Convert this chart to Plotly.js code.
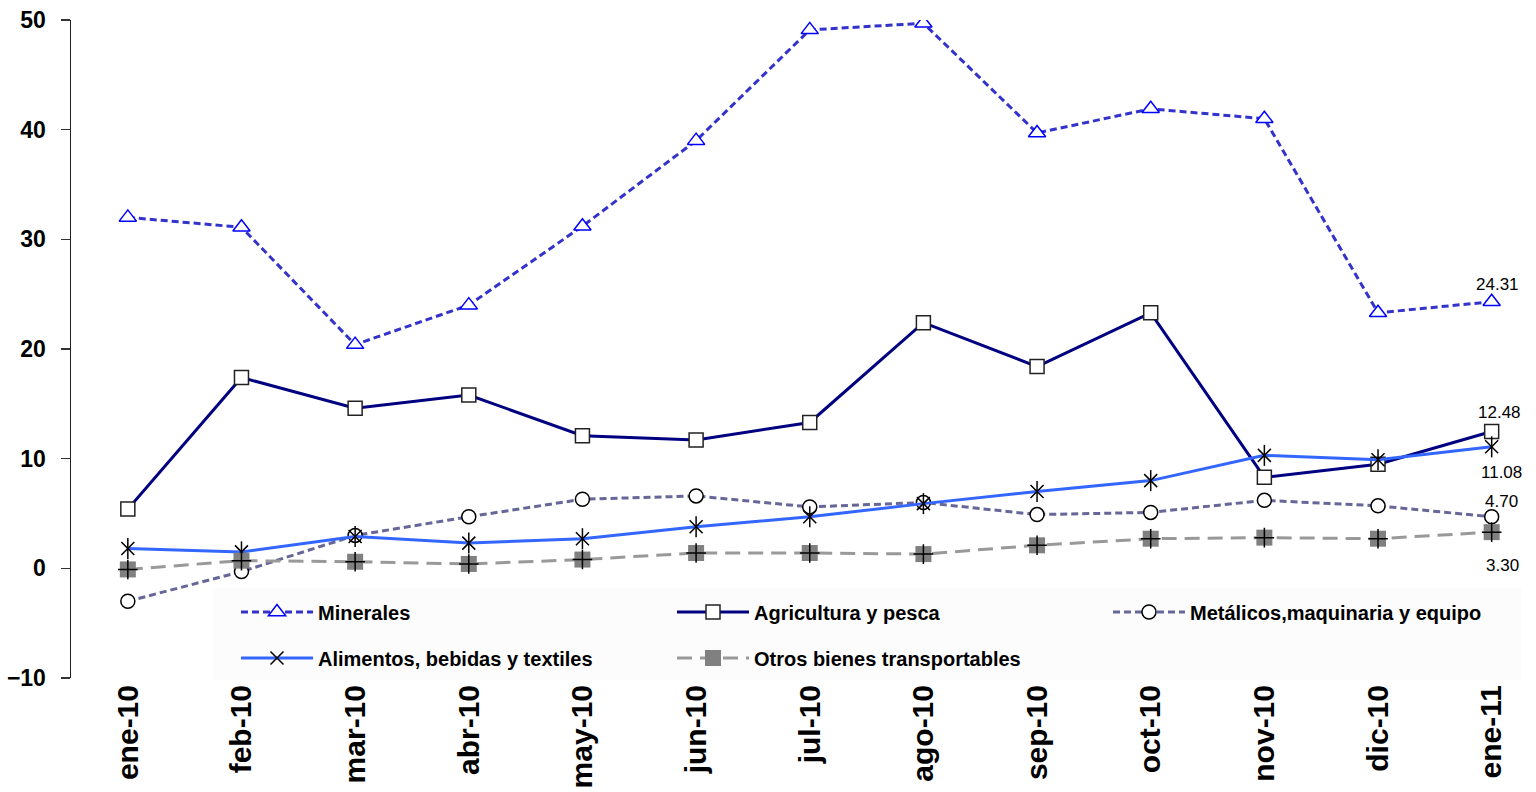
<!DOCTYPE html>
<html>
<head>
<meta charset="utf-8">
<script src="https://cdn.plot.ly/plotly-3.0.1.min.js"></script>
<style>html,body{margin:0;padding:0;background:#fff;}#chart{width:1536px;height:792px;}</style>
</head>
<body>
<div id="chart"></div>
<script>
const months = ['ene-10','feb-10','mar-10','abr-10','may-10','jun-10','jul-10','ago-10','sep-10','oct-10','nov-10','dic-10','ene-11'];
const minerales   = [32.0, 31.1, 20.4, 24.0, 31.2, 39.0, 49.1, 49.7, 39.7, 41.9, 41.0, 23.3, 24.31];
const agricultura = [5.4, 17.4, 14.6, 15.8, 12.1, 11.7, 13.3, 22.4, 18.4, 23.3, 8.3, 9.5, 12.48];
const metalicos   = [-3.0, -0.3, 3.0, 4.7, 6.3, 6.6, 5.6, 6.0, 4.9, 5.1, 6.2, 5.7, 4.70];
const alimentos   = [1.8, 1.5, 2.9, 2.3, 2.7, 3.8, 4.7, 5.9, 7.0, 8.0, 10.3, 9.9, 11.08];
const otros       = [-0.1, 0.7, 0.6, 0.4, 0.8, 1.4, 1.4, 1.3, 2.1, 2.7, 2.8, 2.7, 3.30];
const yTicks = [-10, 0, 10, 20, 30, 40, 50];

const FONT = 'Liberation Sans, Arial, sans-serif';
const xIdx = months.map((m, i) => i);

const traces = [
  { x: xIdx, y: minerales, name: 'Minerales', mode: 'lines+markers', legend: 'legend',
    line: {color: '#3333CC', width: 3, dash: '7px,4px'},
    marker: {symbol: 'triangle-up', size: 15, color: '#FFFFFF', line: {color: '#0000FF', width: 1.5}} },
  { x: xIdx, y: agricultura, name: 'Agricultura y pesca', mode: 'lines+markers', legend: 'legend',
    line: {color: '#000080', width: 3},
    marker: {symbol: 'square', size: 14, color: '#FFFFFF', line: {color: '#222222', width: 1.5}} },
  { x: xIdx, y: metalicos, name: 'Metálicos,maquinaria y equipo', mode: 'lines+markers', legend: 'legend',
    line: {color: '#666699', width: 3, dash: '7px,4px'},
    marker: {symbol: 'circle', size: 14, color: '#FFFFFF', line: {color: '#000000', width: 1.5}} },
  { x: xIdx, y: alimentos, name: 'Alimentos, bebidas y textiles', mode: 'lines+markers', legend: 'legend2',
    line: {color: '#3366FF', width: 3},
    marker: {symbol: 'x-thin-open', size: 13, color: '#000000', line: {color: '#000000', width: 1.5}} },
  { x: xIdx, y: alimentos, name: 'Alimentos vertical', mode: 'markers', showlegend: false, hoverinfo: 'skip',
    marker: {symbol: 'line-ns-open', size: 15, color: '#000000', line: {color: '#000000', width: 1.5}} },
  { x: xIdx, y: otros, name: 'Otros bienes transportables', mode: 'lines+markers', legend: 'legend2',
    line: {color: '#999999', width: 3, dash: '15px,8px'},
    marker: {symbol: 'square', size: 16, color: '#808080', line: {width: 0}} },
  { x: xIdx, y: otros, name: 'Otros cross', mode: 'markers', showlegend: false, hoverinfo: 'skip',
    marker: {symbol: 'cross-thin-open', size: 14, color: '#000000', line: {color: '#000000', width: 1.5}} }
];

const last = months.length - 1;
const labelSpecs = [
  {arr: minerales, dy: 17, dx: 6},
  {arr: agricultura, dy: 19, dx: 8},
  {arr: alimentos, dy: -26, dx: 10},
  {arr: metalicos, dy: 15, dx: 10},
  {arr: otros, dy: -33, dx: 11}
];
const annotations = labelSpecs.map(s => ({
  x: last, y: s.arr[last], xref: 'x', yref: 'y', text: s.arr[last].toFixed(2),
  showarrow: false, xshift: s.dx, yshift: s.dy,
  font: {family: FONT, size: 17, color: '#000000'}
}));

const legendFont = {family: FONT, size: 20, color: '#000000', weight: 'bold'};
const legX = (236 - 71) / 1465;

const layout = {
  width: 1536, height: 792,
  margin: {l: 71, r: 0, t: 20, b: 114, autoexpand: false},
  paper_bgcolor: '#FFFFFF', plot_bgcolor: 'rgba(0,0,0,0)',
  showlegend: true,
  xaxis: {
    type: 'linear', range: [-0.5, 12.39],
    tickmode: 'array', tickvals: xIdx, ticktext: months,
    tickangle: -90, ticks: '', showgrid: false, zeroline: false, showline: false,
    tickfont: {family: FONT, size: 30, color: '#000000', weight: 'bold'}
  },
  yaxis: {
    range: [-10, 50], tickmode: 'array', tickvals: yTicks,
    ticks: 'outside', ticklen: 9, tickwidth: 1.5, tickcolor: '#333333',
    showline: true, linecolor: '#222222', linewidth: 1.5,
    showgrid: false, zeroline: false, ticklabelstandoff: 10,
    tickfont: {family: FONT, size: 23, color: '#000000', weight: 'bold'}
  },
  legend: {
    orientation: 'h', x: legX, y: 0.13, xanchor: 'left', yanchor: 'top',
    bgcolor: 'rgba(0,0,0,0)', entrywidth: 349, entrywidthmode: 'pixels',
    font: legendFont, itemwidth: 72
  },
  legend2: {
    orientation: 'h', x: legX, y: 0.06, xanchor: 'left', yanchor: 'top',
    bgcolor: 'rgba(0,0,0,0)', entrywidth: 349, entrywidthmode: 'pixels',
    font: legendFont, itemwidth: 72
  },
  shapes: [{
    type: 'rect', xref: 'paper', yref: 'paper', x0: 0.097, x1: 0.99, y0: -0.003, y1: 0.137,
    fillcolor: '#FCFCFC', line: {width: 0}, layer: 'below'
  }],
  annotations: annotations
};

Plotly.newPlot('chart', traces, layout, {displayModeBar: false, staticPlot: true});
</script>
</body>
</html>
